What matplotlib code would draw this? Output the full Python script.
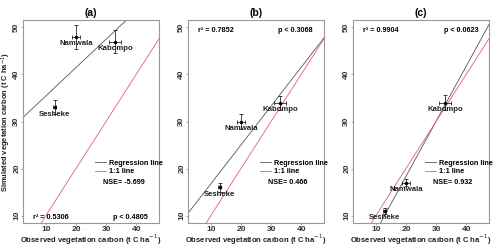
import matplotlib.pyplot as plt
import numpy as np
from matplotlib.lines import Line2D

plt.rcParams['font.family'] = ['Liberation Sans', 'DejaVu Sans']

# Dữ liệu
sites = ['Sesheke', 'Namwala', 'Kabompo']
observed = [13, 20, 33]
observed_err = [0.5, 1.2, 2.0]
simulated = {
    'a': [33, 48, 47],
    'b': [16, 30, 34],
    'c': [11, 17, 34],
}
simulated_err = {
    'a': [1.5, 2.5, 2.4],
    'b': [1.0, 1.5, 1.5],
    'c': [0.6, 0.8, 1.6],
}
r2_text = {'a': 'r² = 0.5306', 'b': 'r² = 0.7852', 'c': 'r² = 0.9904'}
p_text = {'a': 'p < 0.4805', 'b': 'p < 0.3068', 'c': 'p < 0.0623'}
nse_text = {'a': 'NSE= -5.699', 'b': 'NSE= 0.466', 'c': 'NSE= 0.932'}
stats_top = {'a': False, 'b': True, 'c': True}

fig = plt.figure(figsize=(5, 2.49), dpi=100)
lefts = [0.046, 0.376, 0.706]
frame_col = '#999999'
xlim = (2.4, 47.6)
ylim = (8.4, 51.6)

for left, key in zip(lefts, ['a', 'b', 'c']):
    ax = fig.add_axes([left, 0.104, 0.272, 0.816])
    ax.set_xlim(*xlim)
    ax.set_ylim(*ylim)
    for s in ax.spines.values():
        s.set_color(frame_col)
        s.set_linewidth(0.8)

    sim = simulated[key]
    # đường hồi quy và đường 1:1
    slope, icpt = np.polyfit(observed, sim, 1)
    xx = np.array(xlim)
    ax.plot(xx, icpt + slope * xx, color='#555555', lw=0.6)
    ax.plot(xx, xx, color='#e06070', lw=0.6)

    ax.errorbar(observed, sim, xerr=observed_err, yerr=simulated_err[key],
                fmt='o', ms=1.5, color='black', ecolor='black',
                elinewidth=0.5, capsize=1.2, capthick=0.5)
    for name, x, y in zip(sites, observed, sim):
        ax.annotate(name, (x, y), xytext=(0, -2.5), textcoords='offset points',
                    ha='center', va='top', fontsize=5.6, fontweight='bold', color='#222222')

    ax.set_xticks([10, 20, 30, 40])
    ax.set_yticks([10, 20, 30, 40, 50])
    ax.tick_params(axis='both', length=1.5, width=0.6, color=frame_col, pad=0.5,
                   labelsize=6)
    for lab in ax.get_xticklabels() + ax.get_yticklabels():
        lab.set_fontweight('bold')
        lab.set_color('#333333')
    for lab in ax.get_yticklabels():
        lab.set_rotation(90)
        lab.set_va('center')

    ax.set_title('(%s)' % key, fontsize=7.5, fontweight='bold', pad=3)
    ax.set_xlabel('Observed vegetation carbon (t C ha$^{-1}$)', fontsize=5.5,
                  fontweight='bold', labelpad=0, color='#222222')
    if key == 'a':
        ax.set_ylabel('Simulated vegetation carbon (t C ha$^{-1}$)', fontsize=5.4,
                      fontweight='bold', color='#222222', va='center')
        ax.yaxis.set_label_coords(-0.12, 0.5)

    sy = 0.95 if stats_top[key] else 0.03
    ax.text(0.07, sy, r2_text[key], transform=ax.transAxes, fontsize=5.2,
            fontweight='bold', va='center', ha='left')
    ax.text(0.92, sy, p_text[key], transform=ax.transAxes, fontsize=5.2,
            fontweight='bold', va='center', ha='right')

    handles = [Line2D([], [], color='#555555', lw=0.6),
               Line2D([], [], color='#e06070', lw=0.6)]
    ax.legend(handles, ['Regression line', '1:1 line'], loc='upper left',
              bbox_to_anchor=(0.5, 0.33), frameon=False,
              handlelength=1.6, handletextpad=0.4, borderpad=0, labelspacing=0.2,
              prop={'weight': 'bold', 'size': 5.2})
    ax.text(0.59, 0.2, nse_text[key], transform=ax.transAxes, fontsize=5.2,
            fontweight='bold', va='center', ha='left')

plt.savefig('out.png', dpi=100)
plt.close()
